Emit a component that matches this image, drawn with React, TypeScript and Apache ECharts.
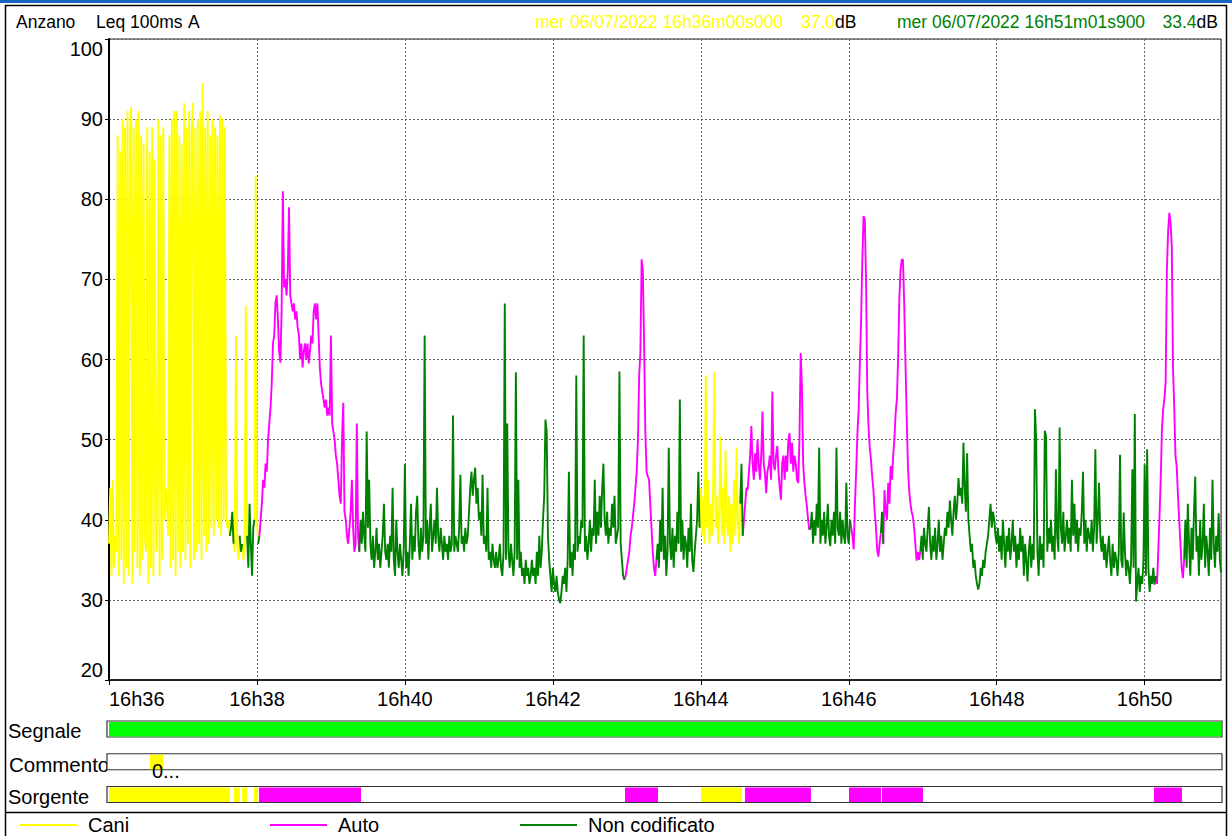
import React, { useEffect, useRef } from "react";
import * as echarts from "echarts";

// ---------- axes / header ----------
const X_MIN = 0;
const X_MAX = 901.9; // seconds after 16h36m00s000 (last sample 16h51m01s900)
const X_TICK = 120;
const Y_MIN = 20;
const Y_MAX = 100;
const Y_TICK = 10;
const START_HOUR = 16;
const START_MINUTE = 36;
const SAMPLE_STEP = 1;

const stationLabel = "Anzano";
const measureLabel = "Leq 100ms";
const weightingLabel = "A";
const cursorStartLabel = "mer 06/07/2022 16h36m00s000";
const cursorStartValue = "37.0";
const cursorEndLabel = "mer 06/07/2022 16h51m01s900";
const cursorEndValue = "33.4";
const unitLabel = "dB";
const endSample = [901.9, 33.4];

const seriesNames = ["Cani", "Auto", "Non codificato"];
const seriesColors = ["#ffff00", "#ff00ff", "#008000"];

// ---------- Cani (dogs) ----------
const caniStarts = [0, 101, 108, 118, 479];
const cani1 = [
  37, 44, 33, 45, 34, 38, 36, 88, 33, 86,
  35, 90, 32, 89, 34, 91, 33, 88, 91.5, 32,
  89, 36, 90, 34, 91, 33, 88, 35, 87, 38,
  36, 89, 32, 86, 34, 89, 33, 85, 36, 37,
  90, 33, 88, 35, 89, 40, 44, 42, 38, 88,
  34, 90, 35, 91, 33, 91, 36, 88, 34, 87,
  36, 92, 35, 89, 37, 91, 34, 88, 92, 35,
  89, 36, 90, 37, 91, 35, 94.5, 38, 89, 36,
  91, 37, 88, 39, 90, 38, 89, 40, 88, 39,
  90.5, 38, 90, 40, 89, 41, 39, 40, 38,
];
const cani2 = [37, 36, 63, 37, 35, 38];
const cani3 = [37, 35, 37, 66.7, 38];
const cani4 = [40, 83, 40, 37];
const cani5 = [
  39, 44, 38, 43, 37, 58, 39, 45, 37, 42,
  38, 44, 58.4, 39, 43, 37, 41, 50.4, 38, 44,
  37, 48.7, 40, 38, 43, 36, 42, 37, 45, 38,
  49, 40, 37, 42,
];

// ---------- Auto (cars) ----------
const autoStarts = [122, 418, 514, 601, 628, 849];
const auto1 = [
  38, 40, 42, 45, 44, 47, 46, 50, 52, 54,
  57, 62, 63, 67, 68, 65, 61, 59.6, 66, 81,
  69, 70, 68, 71, 79, 68, 67, 66, 67, 65,
  66, 64, 63, 60, 62, 59, 61, 62, 60, 62,
  59.5, 61, 63, 62, 66, 67, 65, 67, 63, 59,
  57, 56, 55, 54, 55, 53, 54, 53, 63, 52,
  51, 50, 48, 47, 45, 43, 42, 50, 54.6, 41,
  40, 38, 37, 39, 41, 45, 39, 36, 37, 52,
  38, 36,
];
const auto2 = [32.5, 33, 34, 35, 36, 38, 39, 40.5, 42, 44, 46, 50, 58, 61, 72.5, 71, 62, 51, 46, 45.4, 45, 42, 39, 36, 34, 33, 35];
const auto3 = [
  38, 40, 42, 44, 43.7, 46, 48, 51.7, 47, 45,
  48.3, 46, 50, 47, 45, 48, 53.5, 47, 45.8, 43.3,
  46, 46.7, 48, 45, 56, 47, 46.2, 48, 49.2, 46,
  44, 42.5, 47, 48, 45, 48, 46, 50, 50.8, 47,
  49.6, 46, 48, 47, 45, 44.6, 50, 60.8, 56.7, 47,
  44.6, 43, 41.7, 40, 38.75,
];
const auto4 = [40, 39, 38, 36.3, 42, 46, 50.8, 53.7, 59.6, 65, 72.5, 77.9, 77.5, 70, 56, 51.7, 49, 47.5, 45.4, 43.7, 41, 39.2, 36.3, 35.4, 37, 38.3];
const auto5 = [37, 43.7, 41, 40, 44.6, 42, 46.7, 45, 48, 50, 53.3, 55, 60, 67.5, 71.2, 72.5, 72.4, 66.7, 59.5, 52.6, 46.6, 43.7, 42, 41, 40.4, 39, 37, 34.9, 36, 35, 36];
const auto6 = [33, 32, 36, 40.3, 45, 51.3, 53.8, 55.1, 57.2, 71.1, 76, 78.3, 77, 74, 58.9, 53.8, 47.9, 46.6, 43, 40, 37, 34, 32.7, 35];

// ---------- Non codificato ----------
const nonCodStarts = [98, 106, 112, 121, 203, 444, 512, 568, 626, 658, 872];
const nonCod1 = [38, 39, 41, 37];
const nonCod2 = [38, 36, 37];
const nonCod3 = [38, 34, 42, 37, 33, 39, 40];
const nonCod4 = [37, 38];
const nonCod5 = [
  36,
  40, 37, 41, 38, 36, 51, 39, 45, 37, 35,
  38, 34, 36, 39, 35, 37, 34, 36, 38, 42,
  36, 35, 37, 34, 38, 36, 44, 35, 33, 40,
  36, 34, 37, 35, 33, 36, 47, 34, 36, 33,
  37, 42, 35, 38, 36, 41, 43, 37, 35, 39,
  36, 38, 63, 37, 40, 35, 39, 42, 36, 38,
  40, 37, 44, 38, 36, 39, 37, 35, 38, 36,
  37, 35, 38, 36, 37, 53, 36, 38, 37, 36,
  39, 45.6, 37, 38, 36, 39, 37, 38, 41, 44,
  46, 43, 45, 46.5, 42, 44, 40, 41, 38, 45.6,
  37, 38, 36, 44, 35, 36, 34, 37, 35, 34,
  36, 34, 35, 37, 34, 33, 36, 67, 35, 52,
  36, 34, 37, 35, 33, 36, 58.4, 35, 45, 34,
  36, 33, 34, 32, 35, 33, 34, 32, 33, 35,
  33, 34, 32, 36, 33, 38, 34, 36, 40, 43,
  52.5, 51, 38, 35, 33, 31, 34, 32, 31, 33,
  31, 30, 29.6, 31, 33, 32, 34, 31, 35, 46,
  34, 36, 33, 37, 35, 58, 36, 38, 37, 40,
  39, 63, 36, 38, 35, 37, 40, 36, 39, 38,
  45, 37, 41, 38, 43, 39, 44, 47, 40, 38,
  41, 37, 39, 38, 42, 39, 43, 37, 38, 39,
  58.5, 37, 35, 33, 32.5,
];
const nonCod6 = [
  35, 37, 34, 40, 36, 44, 35, 38, 33, 36,
  49, 37, 35, 39, 34, 38, 36, 41, 37, 55,
  36, 40, 35, 38, 37, 34, 39, 36, 42, 35,
  33.5, 36, 38, 40, 46, 39,
];
const nonCod7 = [42, 47, 38];
const nonCod8 = [
  38.75, 39, 41, 37, 40, 38, 42, 39, 49, 37, 40,
  38, 41, 37, 39, 42, 38, 36.7, 40, 38, 41,
  37, 49, 39, 38, 41, 37, 40, 38, 37, 44.6,
  38, 37, 40,
];
const nonCod9 = [38.3, 41, 37];
const nonCod10 = [
  36, 38, 35, 39, 37, 36, 39, 41.6, 37, 35,
  38, 36, 39, 35, 37, 40, 36, 38, 35, 37,
  39, 38, 41, 39, 42.4, 40, 38, 41, 43, 40,
  42, 45.2, 43, 44, 42, 49.6, 44, 41, 48.3, 40,
  38, 36, 37, 34, 35, 33, 32, 31.3, 32, 34,
  33, 35, 34, 36, 37, 38, 40, 42, 39, 41,
  40, 38, 37, 39, 36, 38, 35, 40, 37, 34,
  38, 36, 39, 35, 37, 40, 36, 38, 34, 37,
  35, 39, 36, 38, 33, 37, 35, 32.3, 36, 38,
  34, 37, 35, 53.8, 50, 36, 33, 38, 35, 37,
  34, 51.1, 50.4, 36, 39, 37, 40, 36, 38, 35,
  46.3, 38, 36, 51.5, 39, 37, 41, 36, 38, 40,
  37, 39, 36, 45, 38, 42, 37, 40, 36, 39,
  38, 41, 46, 37, 40, 36, 39, 38, 37, 40,
  36, 39, 48.8, 37, 40, 44.6, 38, 36, 38, 35,
  37, 34, 36, 38, 35, 33, 37, 34, 36, 35,
  33, 36, 48.1, 35, 34, 40.9, 36, 33, 35, 34,
  32, 35, 46.3, 34, 53.2, 29.8, 32, 34, 31, 33,
  32, 35, 46.9, 33, 48.8, 34, 31, 33, 32, 34,
  31.9, 33,
];
const nonCod11 = [35, 40, 34, 42, 37, 33, 39, 35, 41, 45.4, 36, 38, 33, 40, 35, 37, 42, 34, 38, 36, 33, 39, 35, 45, 37, 34, 38, 36, 40.8, 35];

// ---------- strips (Segnale / Commento / Sorgente) ----------
const stripRows = ["Segnale", "Commento", "Sorgente"];
const segnaleSpans = [[0, 901.9]];
const commentoSpans = [[33.2, 43.8]];
const commentoTexts = ["0..."];
const sorgenteCaniSpans = [[0, 98.1], [101.4, 106.2], [107.9, 111.9], [117.6, 120.8], [480.1, 513.4]];
const sorgenteAutoSpans = [[121.7, 204.4], [418.5, 445.3], [515.8, 569.3], [600.2, 626.1], [626.9, 660.2], [847.5, 870.2]];

const FONT = "'Liberation Sans', Arial, sans-serif";

function buildLine(starts: number[], segs: number[][], tail?: number[]) {
  const out: (number | null)[][] = [];
  segs.forEach((vals, k) => {
    if (k > 0) out.push([starts[k] - 0.5, null]);
    vals.forEach((v, i) => out.push([starts[k] + i * SAMPLE_STEP, v]));
  });
  if (tail) out.push([tail[0], tail[1]]);
  return out;
}

export default function App() {
  const ref = useRef<HTMLDivElement>(null);

  useEffect(() => {
    document.body.style.margin = "0";
    if (!ref.current) return;
    const chart = echarts.init(ref.current, undefined, { renderer: "svg" });

    const lineData = [
      buildLine(caniStarts, [cani1, cani2, cani3, cani4, cani5]),
      buildLine(autoStarts, [auto1, auto2, auto3, auto4, auto5, auto6]),
      buildLine(nonCodStarts, [nonCod1, nonCod2, nonCod3, nonCod4, nonCod5, nonCod6, nonCod7, nonCod8, nonCod9, nonCod10, nonCod11], endSample),
    ];

    // strip items: [start, end, rowIndex, kind]
    const stripData: number[][] = [];
    stripRows.forEach((_, r) => stripData.push([X_MIN, X_MAX, r, 0]));
    segnaleSpans.forEach((s) => stripData.push([s[0], s[1], 0, 1]));
    commentoSpans.forEach((s) => stripData.push([s[0], s[1], 1, 2]));
    sorgenteCaniSpans.forEach((s) => stripData.push([s[0], s[1], 2, 3]));
    sorgenteAutoSpans.forEach((s) => stripData.push([s[0], s[1], 2, 4]));
    const kindColors = ["#ffffff", "#00ff00", "#ffff00", "#ffff00", "#ff00ff"];

    const splitStyle = { color: "#666", type: [2, 2] as any, width: 1 };

    const legendCommon = {
      itemWidth: 57,
      itemHeight: 2,
      icon: "rect",
      padding: 0,
      selectedMode: false,
      textStyle: { fontSize: 20, color: "#000", fontFamily: FONT, padding: [0, 0, 0, 6] },
      top: 815,
    };

    const hdr = (x: number, text: string, fill: string) => ({
      type: "text", x, y: 22,
      style: { text, fontSize: 17.5, fill, fontFamily: FONT, verticalAlign: "middle" },
    });

    chart.setOption({
      animation: false,
      textStyle: { fontFamily: FONT },
      graphic: [
        { type: "rect", shape: { x: 0, y: 0, width: 1232, height: 3 }, style: { fill: "#1565c0" }, silent: true },
        { type: "rect", shape: { x: 5.5, y: 5.5, width: 1221, height: 840 }, style: { fill: "none", stroke: "#000", lineWidth: 1.5 }, silent: true },
        { type: "line", shape: { x1: 5.5, y1: 812.5, x2: 1226.5, y2: 812.5 }, style: { stroke: "#000", lineWidth: 1.5 }, silent: true },
        hdr(16, stationLabel, "#000"),
        hdr(96, measureLabel, "#000"),
        hdr(188, weightingLabel, "#000"),
        hdr(535, cursorStartLabel, "#ffff00"),
        {
          type: "text", x: 801, y: 22,
          style: {
            text: `{v|${cursorStartValue}}{u|${unitLabel}}`, verticalAlign: "middle",
            rich: { v: { fontSize: 17.5, fill: "#ffff00", fontFamily: FONT }, u: { fontSize: 17.5, fill: "#000", fontFamily: FONT } },
          },
        },
        hdr(897, cursorEndLabel, "#008000"),
        {
          type: "text", x: 1218, y: 22,
          style: {
            text: `{v|${cursorEndValue}}{u|${unitLabel}}`, verticalAlign: "middle", align: "right",
            rich: { v: { fontSize: 17.5, fill: "#008000", fontFamily: FONT }, u: { fontSize: 17.5, fill: "#000", fontFamily: FONT } },
          },
        },
        { type: "text", x: 8, y: 731, style: { text: stripRows[0], fontSize: 20, fill: "#000", fontFamily: FONT, verticalAlign: "middle" } },
        { type: "text", x: 9, y: 764, style: { text: stripRows[1], fontSize: 20.5, fill: "#000", fontFamily: FONT, verticalAlign: "middle" } },
        { type: "text", x: 8, y: 797, style: { text: stripRows[2], fontSize: 20, fill: "#000", fontFamily: FONT, verticalAlign: "middle" } },
      ],
      legend: [
        { ...legendCommon, data: [seriesNames[0]], left: 20 },
        { ...legendCommon, data: [seriesNames[1]], left: 270 },
        { ...legendCommon, data: [seriesNames[2]], left: 520 },
      ],
      grid: [
        { left: 109, right: 11, top: 39, bottom: 156, show: true, borderColor: "#222", borderWidth: 1, backgroundColor: "#fff" },
        { left: 109, right: 11, top: 712.6, height: 98.3 },
      ],
      xAxis: [
        {
          type: "value", gridIndex: 0, min: X_MIN, max: X_MAX, interval: X_TICK,
          axisLine: { show: true, onZero: false, lineStyle: { color: "#000", width: 1.5 } },
          axisTick: { show: true, length: 5, lineStyle: { color: "#000" } },
          axisLabel: {
            fontSize: 20, color: "#000", margin: 9, showMaxLabel: false, alignMinLabel: "left",
            formatter: (v: number) => (Math.abs(v % X_TICK) < 1e-6 ? `${START_HOUR}h${START_MINUTE + Math.round(v / 60)}` : ""),
          },
          splitLine: { show: true, lineStyle: splitStyle },
        },
        { type: "value", gridIndex: 1, min: X_MIN, max: X_MAX, show: false },
      ],
      yAxis: [
        {
          type: "value", gridIndex: 0, min: Y_MIN, max: Y_MAX, interval: Y_TICK,
          axisLine: { show: true, onZero: false, lineStyle: { color: "#000", width: 2 } },
          axisTick: { show: true, length: 4, lineStyle: { color: "#000" } },
          axisLabel: { fontSize: 20, color: "#000", margin: 6, verticalAlignMaxLabel: "top", verticalAlignMinLabel: "bottom" },
          splitLine: { show: true, lineStyle: splitStyle },
        },
        { type: "category", gridIndex: 1, data: stripRows, inverse: true, show: false },
      ],
      series: [
        ...seriesNames.map((name, i) => ({
          name, type: "line", xAxisIndex: 0, yAxisIndex: 0, data: lineData[i],
          showSymbol: false, symbol: "none", connectNulls: false, silent: true,
          lineStyle: { color: seriesColors[i], width: 1.9 }, itemStyle: { color: seriesColors[i] },
        })),
        {
          type: "custom", xAxisIndex: 1, yAxisIndex: 1, data: stripData, silent: true, clip: false,
          renderItem: (_p: any, api: any) => {
            const s = api.value(0), e = api.value(1), row = api.value(2), kind = api.value(3);
            const a = api.coord([s, row]);
            const b = api.coord([e, row]);
            if (kind === 0) {
              return {
                type: "rect",
                shape: { x: a[0] - 2, y: a[1] - 8, width: b[0] - a[0] + 3, height: 16 },
                style: { fill: "#fff", stroke: "#333", lineWidth: 1.2 },
              };
            }
            const rect = {
              type: "rect",
              shape: { x: a[0], y: a[1] - 7, width: Math.max(1, b[0] - a[0]), height: 14.5 },
              style: { fill: kindColors[kind] },
            };
            if (kind === 2) {
              return {
                type: "group",
                children: [
                  rect,
                  { type: "text", style: { text: commentoTexts[0], x: a[0] + 2, y: a[1] + 9, fill: "#000", fontSize: 20, fontFamily: FONT, verticalAlign: "middle" } },
                ],
              };
            }
            return rect;
          },
        },
      ],
    });

    return () => chart.dispose();
  }, []);

  return <div ref={ref} style={{ width: 1232, height: 836 }} />;
}
